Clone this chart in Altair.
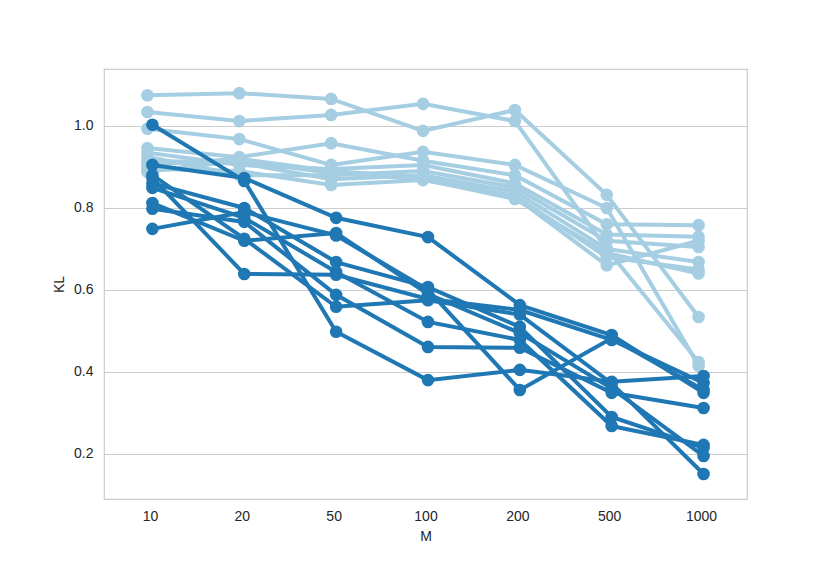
import altair as alt
import pandas as pd

M_labels = ["10", "20", "50", "100", "200", "500", "1000"]

light_lines = [
    [1.075, 1.080, 1.066, 0.988, 1.039, 0.832, 0.534],
    [1.034, 1.012, 1.027, 1.054, 1.012, 0.700, 0.424],
    [0.993, 0.968, 0.905, 0.937, 0.905, 0.800, 0.415],
    [0.946, 0.924, 0.958, 0.915, 0.880, 0.760, 0.758],
    [0.935, 0.905, 0.895, 0.905, 0.860, 0.735, 0.730],
    [0.925, 0.880, 0.880, 0.890, 0.850, 0.720, 0.705],
    [0.915, 0.910, 0.870, 0.880, 0.840, 0.700, 0.668],
    [0.905, 0.920, 0.890, 0.875, 0.830, 0.680, 0.650],
    [0.895, 0.890, 0.856, 0.868, 0.827, 0.660, 0.720],
    [0.888, 0.915, 0.885, 0.870, 0.822, 0.690, 0.640],
]

dark_lines = [
    [1.003, 0.866, 0.498, 0.380, 0.405, 0.376, 0.390],
    [0.905, 0.873, 0.776, 0.729, 0.563, 0.490, 0.349],
    [0.873, 0.639, 0.637, 0.578, 0.551, 0.478, 0.373],
    [0.860, 0.800, 0.668, 0.607, 0.510, 0.290, 0.215],
    [0.849, 0.776, 0.644, 0.522, 0.478, 0.268, 0.222],
    [0.812, 0.720, 0.739, 0.590, 0.495, 0.360, 0.195],
    [0.798, 0.766, 0.588, 0.461, 0.459, 0.349, 0.312],
    [0.749, 0.790, 0.733, 0.600, 0.356, 0.482, 0.356],
    [0.880, 0.725, 0.559, 0.575, 0.540, 0.372, 0.151],
]

LIGHT = "#a6cee3"
DARK = "#1f78b4"
DODGE = 0.027


def build(lines, group, offset):
    rows = []
    for i, vals in enumerate(lines):
        for j, v in enumerate(vals):
            rows.append({"pos": j + offset, "KL": v, "run": f"{group}{i}"})
    return pd.DataFrame(rows)


light_df = build(light_lines, "a", -DODGE)
dark_df = build(dark_lines, "b", DODGE)

label_expr = "[" + ",".join(f"'{m}'" for m in M_labels) + "][round(datum.value)]"

FONT = "Liberation Sans"
common_axis = dict(
    labelFont=FONT,
    titleFont=FONT,
    labelFontSize=14,
    titleFontSize=14,
    labelColor="#262626",
    titleColor="#262626",
    titleFontWeight="normal",
    ticks=False,
    domain=False,
)

x_enc = alt.X(
    "pos:Q",
    scale=alt.Scale(domain=[-0.5, 6.5], nice=False, zero=False),
    axis=alt.Axis(
        values=list(range(7)),
        labelExpr=label_expr,
        title="M",
        grid=False,
        labelPadding=10,
        titlePadding=6,
        **common_axis,
    ),
)
y_enc = alt.Y(
    "KL:Q",
    scale=alt.Scale(domain=[0.09, 1.139], nice=False, zero=False),
    axis=alt.Axis(
        values=[0.2, 0.4, 0.6, 0.8, 1.0],
        format=".1f",
        title="KL",
        grid=True,
        gridColor="#cccccc",
        gridWidth=1.2,
        labelPadding=11,
        titlePadding=7,
        **common_axis,
    ),
)


def layer_for(df, color):
    line = alt.Chart(df).mark_line(color=color, strokeWidth=4).encode(
        x=x_enc, y=y_enc, detail="run:N"
    )
    pts = alt.Chart(df).mark_circle(color=color, size=160, opacity=1).encode(
        x=x_enc, y=y_enc
    )
    return [line, pts]


chart = alt.layer(*layer_for(light_df, LIGHT), *layer_for(dark_df, DARK)).properties(
    width=643,
    height=430,
    background="white",
    autosize=alt.AutoSizeParams(type="none"),
    padding={"left": 96, "top": 61, "right": 75, "bottom": 64},
).configure_view(
    stroke="#cccccc", strokeWidth=1.2
)

chart.save("out.html", embed_options={"renderer": "svg", "actions": False})
